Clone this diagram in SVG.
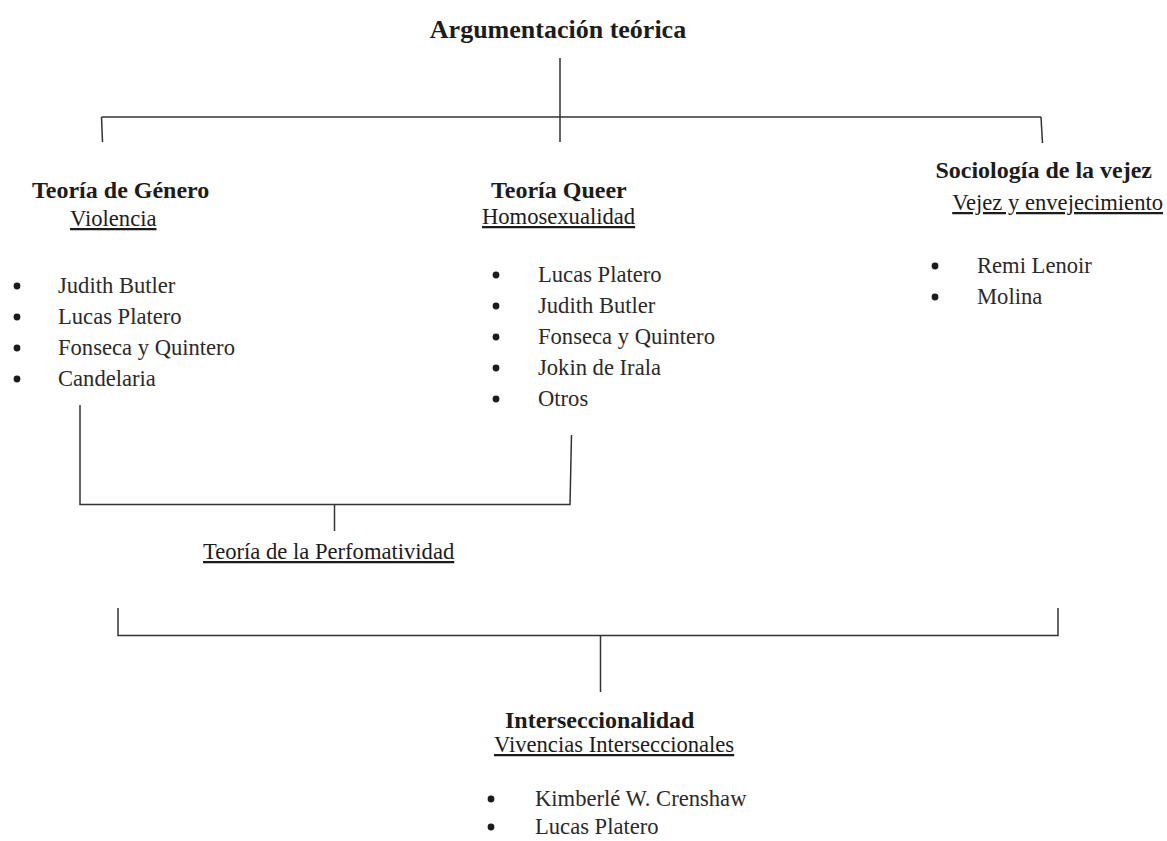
<svg xmlns="http://www.w3.org/2000/svg" width="1167" height="841" viewBox="0 0 1167 841">
  <style>
    text { font-family: "Liberation Serif", "Times New Roman", serif; fill: #1c1c1c; }
    .title { font-size: 26px; font-weight: bold; }
    .head { font-size: 24px; font-weight: bold; }
    .sub { font-size: 22.6px; text-decoration: underline; }
    .item { font-size: 22.6px; fill: #2a2a2a; }
    .bullet { fill: #1c1c1c; }
    .conn { fill: none; stroke: #333; stroke-width: 1.5; }
  </style>
  <rect width="1167" height="841" fill="#ffffff"/>

  <!-- connectors -->
  <g id="connectors">
    <!-- top tree -->
    <path class="conn" d="M560 58 V142"/>
    <path class="conn" d="M101.5 117 H1041"/>
    <path class="conn" d="M101.5 117 L102.5 142"/>
    <path class="conn" d="M1041 117 L1042.5 143"/>
    <!-- Género + Queer merge -->
    <path class="conn" d="M80 405 V504.5 H570 L571.5 435"/>
    <path class="conn" d="M334.5 504.5 V531"/>
    <!-- bottom bracket -->
    <path class="conn" d="M118 608 V635.5 H1058 V608"/>
    <path class="conn" d="M600.5 635.5 V692"/>
  </g>

  <g id="root">
    <text class="title" x="558" y="38" text-anchor="middle">Argumentación teórica</text>
  </g>

  <g id="genero">
    <text class="head" x="32" y="198">Teoría de Género</text>
    <text class="sub" x="70" y="226">Violencia</text>
    <circle class="bullet" cx="17" cy="286" r="3.4"/>
    <text class="item" x="58" y="293">Judith Butler</text>
    <circle class="bullet" cx="17" cy="317" r="3.4"/>
    <text class="item" x="58" y="324">Lucas Platero</text>
    <circle class="bullet" cx="17" cy="348" r="3.4"/>
    <text class="item" x="58" y="355">Fonseca y Quintero</text>
    <circle class="bullet" cx="17" cy="379" r="3.4"/>
    <text class="item" x="58" y="386">Candelaria</text>
  </g>

  <g id="queer">
    <text class="head" x="491" y="198">Teoría Queer</text>
    <text class="sub" x="482" y="224">Homosexualidad</text>
    <circle class="bullet" cx="496" cy="275" r="3.4"/>
    <text class="item" x="538" y="282">Lucas Platero</text>
    <circle class="bullet" cx="496" cy="306" r="3.4"/>
    <text class="item" x="538" y="313">Judith Butler</text>
    <circle class="bullet" cx="496" cy="337" r="3.4"/>
    <text class="item" x="538" y="344">Fonseca y Quintero</text>
    <circle class="bullet" cx="496" cy="368" r="3.4"/>
    <text class="item" x="538" y="375">Jokin de Irala</text>
    <circle class="bullet" cx="496" cy="399" r="3.4"/>
    <text class="item" x="538" y="406">Otros</text>
  </g>

  <g id="vejez">
    <text class="head" x="1152" y="178" text-anchor="end">Sociología de la vejez</text>
    <text class="sub" x="1163" y="210" text-anchor="end">Vejez y envejecimiento</text>
    <circle class="bullet" cx="935" cy="266" r="3.4"/>
    <text class="item" x="977" y="273">Remi Lenoir</text>
    <circle class="bullet" cx="935" cy="297" r="3.4"/>
    <text class="item" x="977" y="304">Molina</text>
  </g>

  <g id="performatividad">
    <text class="sub" x="203" y="559">Teoría de la Perfomatividad</text>
  </g>

  <g id="interseccionalidad">
    <text class="head" x="505" y="728">Interseccionalidad</text>
    <text class="sub" x="494" y="752">Vivencias Interseccionales</text>
    <circle class="bullet" cx="491" cy="799" r="3.4"/>
    <text class="item" x="535" y="806">Kimberlé W. Crenshaw</text>
    <circle class="bullet" cx="491" cy="827" r="3.4"/>
    <text class="item" x="535" y="834">Lucas Platero</text>
  </g>
</svg>
